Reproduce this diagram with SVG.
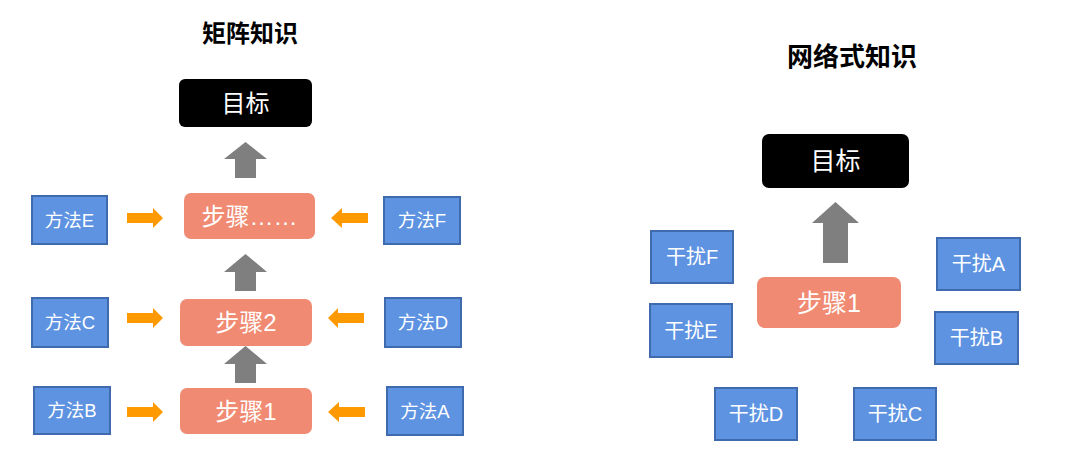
<svg xmlns="http://www.w3.org/2000/svg" width="1080" height="454" viewBox="0 0 1080 454">
<style>
text{font-family:"Liberation Sans","Noto Sans CJK SC",sans-serif;text-anchor:middle;dominant-baseline:central}
.title{font-size:24px;font-weight:bold;fill:#000}
.goal rect{fill:#000}
.goal text{fill:#fff;font-size:24px}
.step rect{fill:#F08A72}
.step text{fill:#fff;font-size:24px}
.m rect{fill:#5E93E2;stroke:#3F6BAE;stroke-width:2}
.m text{fill:#fff;font-size:18.5px}
.d text{font-size:20px}
.g{fill:#7F7F7F}
.o{fill:#FF9900}
</style>
<rect width="1080" height="454" fill="#fff"/>
<text class="title" x="250" y="33">矩阵知识</text>
<text class="title" x="852" y="57" style="font-size:26px">网络式知识</text>

<g id="goal-left" class="goal"><rect x="179" y="79" width="133" height="48" rx="6"/><text x="245.5" y="103">目标</text></g>
<g id="step-etc" class="step"><rect x="184" y="193" width="131" height="46" rx="7"/><text x="249.5" y="216">步骤……</text></g>
<g id="step2" class="step"><rect x="180" y="299" width="132" height="47" rx="7"/><text x="246" y="322.5">步骤2</text></g>
<g id="step1-left" class="step"><rect x="180" y="388" width="132" height="46" rx="7"/><text x="246" y="411">步骤1</text></g>

<g id="methodE" class="m"><rect x="32" y="196" width="75" height="48"/><text x="69.5" y="220">方法E</text></g>
<g id="methodF" class="m"><rect x="384" y="197" width="76" height="47"/><text x="422" y="220.5">方法F</text></g>
<g id="methodC" class="m"><rect x="32" y="298" width="76" height="49"/><text x="70" y="322.5">方法C</text></g>
<g id="methodD" class="m"><rect x="385" y="298" width="76" height="49"/><text x="423" y="322.5">方法D</text></g>
<g id="methodB" class="m"><rect x="34" y="387" width="76" height="47"/><text x="72" y="410.5">方法B</text></g>
<g id="methodA" class="m"><rect x="387" y="387" width="76" height="48"/><text x="425" y="411">方法A</text></g>

<g id="goal-right" class="goal"><rect x="762" y="134" width="147" height="54" rx="7"/><text x="835.5" y="161" style="font-size:25px">目标</text></g>
<g id="step1-right" class="step"><rect x="757" y="277" width="144" height="51" rx="8"/><text x="829" y="302.5" style="font-size:25px">步骤1</text></g>

<g id="disturbF" class="m d"><rect x="651" y="231" width="82" height="52"/><text x="692" y="257">干扰F</text></g>
<g id="disturbE" class="m d"><rect x="650" y="304" width="82" height="53"/><text x="691" y="330.5">干扰E</text></g>
<g id="disturbA" class="m d"><rect x="937" y="238" width="83" height="52"/><text x="978.5" y="264">干扰A</text></g>
<g id="disturbB" class="m d"><rect x="935" y="312" width="83" height="52"/><text x="976.5" y="338">干扰B</text></g>
<g id="disturbD" class="m d"><rect x="715" y="388" width="82" height="52"/><text x="756" y="414">干扰D</text></g>
<g id="disturbC" class="m d"><rect x="854" y="388" width="82" height="52"/><text x="895" y="414">干扰C</text></g>

<g id="connectors">
<polygon class="g" points="245.5,142 267,159 256,159 256,178 235,178 235,159 224,159"/>
<polygon class="g" points="245.5,254 267,272 256,272 256,291 235,291 235,272 224,272"/>
<polygon class="g" points="245.5,346 267,364 256,364 256,383 235,383 235,364 224,364"/>
<polygon class="g" points="835.5,202 859,223 848,223 848,263 823,263 823,223 812,223"/>

<polygon class="o" points="127,213 153,213 153,208 163,218 153,228 153,223 127,223"/>
<polygon class="o" points="127,313 153,313 153,308 163,318 153,328 153,323 127,323"/>
<polygon class="o" points="127,407 153,407 153,402 163,412 153,422 153,417 127,417"/>
<polygon class="o" points="368,213 342,213 342,208 331,218 342,228 342,223 368,223"/>
<polygon class="o" points="364,313 338,313 338,308 328,318 338,328 338,323 364,323"/>
<polygon class="o" points="365,407 339,407 339,402 328,412 339,422 339,417 365,417"/>
</g>
</svg>
